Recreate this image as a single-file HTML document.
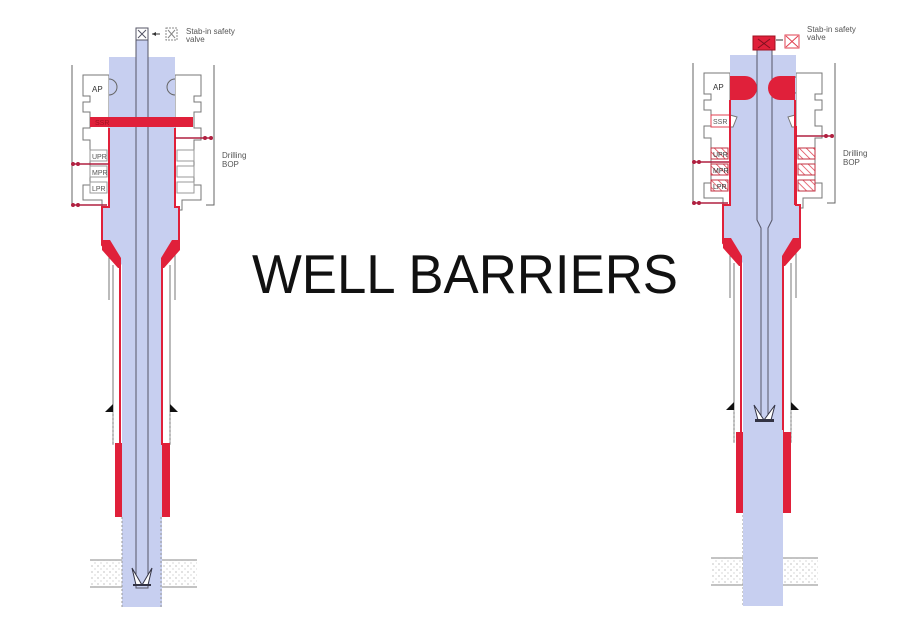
<!DOCTYPE html>
<html><head><meta charset="utf-8"><style>
html,body{margin:0;padding:0;background:#fff;}
svg{display:block;}
text{font-family:"Liberation Sans",Arial,sans-serif;}
</style></head><body>
<svg width="924" height="634" viewBox="0 0 924 634" xmlns="http://www.w3.org/2000/svg">
<defs>
<pattern id="dots" width="6" height="6" patternUnits="userSpaceOnUse"><circle cx="2" cy="2" r="0.6" fill="#999"/><circle cx="5" cy="5" r="0.6" fill="#bbb"/></pattern>
<pattern id="hatch" width="5" height="5" patternUnits="userSpaceOnUse" patternTransform="rotate(-45)"><rect width="5" height="5" fill="#fff"/><line x1="0" y1="0" x2="0" y2="5" stroke="#e04050" stroke-width="1.5"/></pattern>
<g id="well">
  <!-- outer BOP lines -->
  <polyline points="72,65 72,205 80,205" fill="none" stroke="#666" stroke-width="1"/>
  <polyline points="214,65 214,205 206,205" fill="none" stroke="#666" stroke-width="1"/>
  <!-- BOP housing outline -->
  <path d="M83,75 H109 V210 H102 V200 H83 V185 H90 V140 H83 V128 H90 V112 H83 V102 H90 V96 H83 Z" fill="#fff" stroke="#777" stroke-width="1"/>
  <path d="M201,75 H175 V210 H182 V200 H201 V185 H194 V140 H201 V128 H194 V112 H201 V102 H194 V96 H201 Z" fill="#fff" stroke="#777" stroke-width="1"/>
  <!-- formation -->
  <rect x="90" y="560" width="107" height="27" fill="url(#dots)"/>
  <line x1="90" y1="560" x2="197" y2="560" stroke="#888"/>
  <line x1="90" y1="587" x2="197" y2="587" stroke="#888"/>
  <!-- outer casings -->
  <line x1="113" y1="265" x2="113" y2="445" stroke="#777"/>
  <line x1="170" y1="265" x2="170" y2="445" stroke="#777"/>
  <line x1="109" y1="250" x2="109" y2="300" stroke="#777"/>
  <line x1="175" y1="250" x2="175" y2="300" stroke="#777"/>
  <!-- blue body -->
  <path d="M109,57 H175 V207 H179 V245 L162,265 V607 H122 V265 L102,245 V207 H109 Z" fill="#c7cff0"/>
  <!-- red outline -->
  <path d="M109,128 V207 H102 V245 L120,265 V445" fill="none" stroke="#e0203a" stroke-width="2"/>
  <path d="M175,128 V207 H179 V245 L162,265 V445" fill="none" stroke="#e0203a" stroke-width="2"/>
  <path d="M102,240 L110,240 L121,258 L121,268 L118,268 L102,250 Z" fill="#e0203a"/>
  <path d="M180,240 L172,240 L161,258 L161,268 L164,268 L180,250 Z" fill="#e0203a"/>
  <!-- AP semicircles -->
  <path d="M109,79 A8,8 0 0 1 109,95" fill="none" stroke="#666"/>
  <path d="M175,79 A8,8 0 0 0 175,95" fill="none" stroke="#666"/>
  <text x="92" y="92" font-size="8" fill="#333">AP</text>
  <!-- rams left -->
  <rect x="90" y="150" width="17" height="11" fill="#fff" stroke="#999"/>
  <rect x="90" y="166" width="17" height="11" fill="#fff" stroke="#999"/>
  <rect x="90" y="182" width="17" height="11" fill="#fff" stroke="#999"/>
  <text x="92" y="159" font-size="7" fill="#555">UPR</text>
  <text x="92" y="175" font-size="7" fill="#555">MPR</text>
  <text x="92" y="191" font-size="7" fill="#555">LPR</text>
  <!-- rams right -->
  <rect x="177" y="150" width="17" height="11" fill="#fff" stroke="#999"/>
  <rect x="177" y="166" width="17" height="11" fill="#fff" stroke="#999"/>
  <rect x="177" y="182" width="17" height="11" fill="#fff" stroke="#999"/>
  <!-- kill/choke lines -->
  <path d="M72,164 H109" stroke="#b02040" stroke-width="1.5"/>
  <circle cx="73" cy="164" r="2" fill="#b02040"/><circle cx="78" cy="164" r="2" fill="#b02040"/>
  <path d="M72,205 H107" stroke="#b02040" stroke-width="1.5"/>
  <circle cx="73" cy="205" r="2" fill="#b02040"/><circle cx="78" cy="205" r="2" fill="#b02040"/>
  <path d="M175,138 H212" stroke="#b02040" stroke-width="1.5"/>
  <circle cx="205" cy="138" r="2" fill="#b02040"/><circle cx="211" cy="138" r="2" fill="#b02040"/>
  <text x="222" y="158" font-size="8" fill="#555">Drilling</text>
  <text x="222" y="167" font-size="8" fill="#555">BOP</text>
  <!-- shoe triangles -->
  <path d="M113,404 L105,412 L113,412 Z" fill="#111"/>
  <path d="M170,404 L178,412 L170,412 Z" fill="#111"/>
  <line x1="113" y1="412" x2="113" y2="445" stroke="#999" stroke-dasharray="2,2"/>
  <line x1="170" y1="412" x2="170" y2="445" stroke="#999" stroke-dasharray="2,2"/>
  <!-- wavy open hole below -->
  <line x1="122" y1="517" x2="122" y2="607" stroke="#999" stroke-dasharray="2,2"/>
  <line x1="161" y1="517" x2="161" y2="607" stroke="#999" stroke-dasharray="2,2"/>
  <text x="186" y="34" font-size="8" fill="#555">Stab-in safety</text>
  <text x="186" y="42" font-size="8" fill="#555">valve</text>
</g>
</defs>

<!-- LEFT -->
<use href="#well"/>
<!-- drill pipe left -->
<rect x="136" y="28" width="12" height="560" fill="#c7cff0" stroke="#556" stroke-width="1"/>
<rect x="136" y="28" width="12" height="12" fill="#fff" stroke="#556"/>
<path d="M138,30 L146,38 M146,30 L138,38" stroke="#556"/>
<path d="M152,34 H160" stroke="#333"/><path d="M152,34 l4,-2 v4 z" fill="#333"/>
<rect x="166" y="28" width="11" height="12" fill="#fff" stroke="#888" stroke-dasharray="2,1"/>
<path d="M168,30 L175,38 M175,30 L168,38" stroke="#888"/>
<rect x="90" y="117" width="103" height="10" fill="#e0203a"/>
<text x="95" y="125" font-size="7" fill="#a01020">SSR</text>
<path d="M132,568 L136,585 L148,585 L152,568 L142,585 Z" fill="#fff" stroke="#334"/>
<rect x="133" y="584" width="18" height="2" fill="#334"/>
<rect x="115" y="443" width="7" height="74" fill="#e0203a"/>
<rect x="162" y="443" width="8" height="74" fill="#e0203a"/>

<!-- RIGHT -->
<g transform="translate(621,-2)">
  <use href="#well"/>
</g>
<!-- right drill pipe -->
<path d="M757,50 H772 V220 L768,228 V420 H761 V228 L757,220 Z" fill="#c7cff0" stroke="#556"/>
<rect x="753" y="36" width="22" height="14" fill="#e0203a" stroke="#a01020"/>
<path d="M758,39 L770,48 M770,39 L758,48" stroke="#801020"/>
<path d="M776,40 H783" stroke="#333"/>
<rect x="785" y="35" width="14" height="13" fill="#fff" stroke="#e04050"/>
<path d="M786,36 L798,47 M798,36 L786,47" stroke="#e04050"/>
<!-- AP red blobs -->
<path d="M730,76 H745 A12,12 0 0 1 745,100 H730 Z" fill="#e0203a"/>
<path d="M795,76 H780 A12,12 0 0 0 780,100 H795 Z" fill="#e0203a"/>
<!-- SSR -->
<rect x="711" y="115" width="19" height="12" fill="#fff" stroke="#e04050"/>
<text x="713" y="124" font-size="7" fill="#555">SSR</text>
<path d="M730,115 L737,117 L733,127 L730,127 Z" fill="#fff" stroke="#777"/>
<path d="M795,115 L788,117 L792,127 L795,127 Z" fill="#fff" stroke="#777"/>
<!-- hatched rams -->
<rect x="711" y="148" width="17" height="11" fill="url(#hatch)" stroke="#c03040"/>
<rect x="711" y="164" width="17" height="11" fill="url(#hatch)" stroke="#c03040"/>
<rect x="711" y="180" width="17" height="11" fill="url(#hatch)" stroke="#c03040"/>
<text x="713" y="157" font-size="7" fill="#333">UPR</text>
<text x="713" y="173" font-size="7" fill="#333">MPR</text>
<text x="713" y="189" font-size="7" fill="#333">LPR</text>
<rect x="798" y="148" width="17" height="11" fill="url(#hatch)" stroke="#c03040"/>
<rect x="798" y="164" width="17" height="11" fill="url(#hatch)" stroke="#c03040"/>
<rect x="798" y="180" width="17" height="11" fill="url(#hatch)" stroke="#c03040"/>
<!-- right red housing outline extension -->
<path d="M730,100 V205" stroke="#e0203a" stroke-width="2"/>
<path d="M795,100 V205" stroke="#e0203a" stroke-width="2"/>
<!-- bit right -->
<path d="M754,405 L758,420 L771,420 L775,405 L764,420 Z" fill="#fff" stroke="#334"/>
<rect x="755" y="419" width="19" height="3" fill="#334"/>
<!-- cement right -->
<rect x="736" y="432" width="7" height="81" fill="#e0203a"/>
<rect x="783" y="432" width="8" height="81" fill="#e0203a"/>
<rect x="743" y="430" width="40" height="176" fill="#c7cff0"/>

<!-- title -->
<text x="252" y="293" font-size="55" fill="#111" textLength="426" lengthAdjust="spacingAndGlyphs">WELL BARRIERS</text>
</svg>
</body></html>
